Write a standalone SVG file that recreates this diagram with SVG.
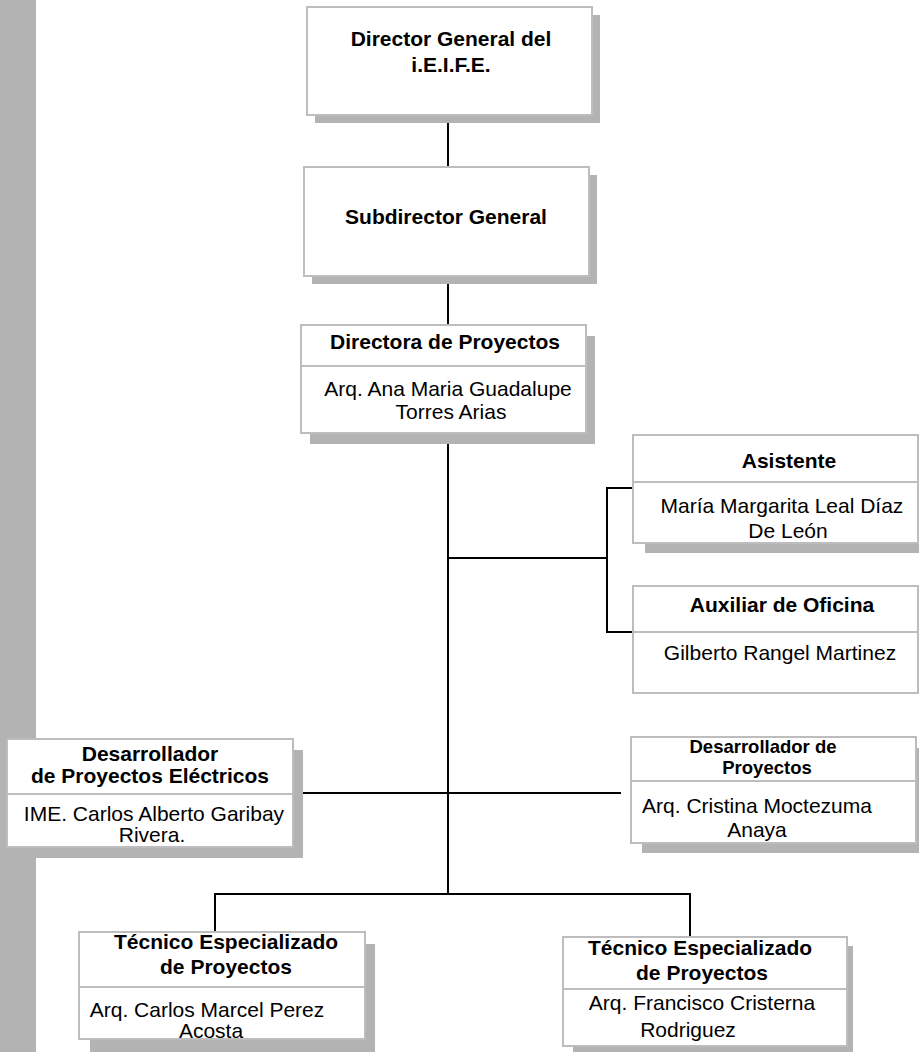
<svg xmlns="http://www.w3.org/2000/svg" width="919" height="1052" viewBox="0 0 919 1052">
<style>
.sh{fill:#b3b3b3}
.bx{fill:#fff;stroke:#bdbdbd;stroke-width:2}
.dv{stroke:#bdbdbd;stroke-width:2}
.t{font-family:"Liberation Sans",Arial,sans-serif;font-size:21px;font-weight:bold;fill:#000;text-anchor:middle}
.n{font-family:"Liberation Sans",Arial,sans-serif;font-size:21px;fill:#000;text-anchor:middle}
.c{stroke:#000;stroke-width:2;fill:none}
</style>
<rect x="0" y="0" width="919" height="1052" fill="#fff"/>
<rect x="0" y="0" width="36" height="1052" class="sh"/>
<g id="connectors">
<line class="c" x1="448" y1="123" x2="448" y2="167"/>
<line class="c" x1="448" y1="284" x2="448" y2="325"/>
<line class="c" x1="448" y1="444" x2="448" y2="894"/>
<line class="c" x1="448" y1="558" x2="607" y2="558"/>
<polyline class="c" points="633,488 607,488 607,632 633,632"/>
<line class="c" x1="300" y1="793" x2="621" y2="793"/>
<polyline class="c" points="215,932 215,894 690,894 690,937"/>
</g>
<g id="director-general">
<rect class="sh" x="315" y="15" width="285" height="108"/>
<rect class="bx" x="307" y="7" width="285" height="108"/>
<text class="t" x="451" y="46">Director General del</text>
<text class="t" x="451" y="72">i.E.I.F.E.</text>
</g>
<g id="subdirector">
<rect class="sh" x="312" y="175" width="285" height="109"/>
<rect class="bx" x="304" y="167" width="285" height="109"/>
<text class="t" x="446" y="224">Subdirector General</text>
</g>
<g id="directora">
<rect class="sh" x="310" y="336" width="285" height="108"/>
<rect class="bx" x="301" y="325" width="285" height="108"/>
<line class="dv" x1="301" y1="366" x2="586" y2="366"/>
<text class="t" x="445" y="349">Directora de Proyectos</text>
<text class="n" x="448" y="396">Arq. Ana Maria Guadalupe</text>
<text class="n" x="451" y="419">Torres Arias</text>
</g>
<g id="asistente">
<rect class="sh" x="645" y="445" width="274" height="108"/>
<rect class="bx" x="633" y="435" width="285" height="108"/>
<line class="dv" x1="633" y1="482" x2="918" y2="482"/>
<text class="t" x="789" y="468">Asistente</text>
<text class="n" x="782" y="513">María Margarita Leal Díaz</text>
<text class="n" x="788" y="538">De León</text>
</g>
<g id="auxiliar">
<rect class="bx" x="633" y="586" width="285" height="107"/>
<line class="dv" x1="633" y1="632" x2="918" y2="632"/>
<text class="t" x="782" y="612">Auxiliar de Oficina</text>
<text class="n" x="780" y="660">Gilberto Rangel Martinez</text>
</g>
<g id="des-electricos">
<rect class="sh" x="18" y="750" width="285" height="108"/>
<rect class="bx" x="7" y="739" width="286" height="108"/>
<line class="dv" x1="7" y1="794" x2="293" y2="794"/>
<text class="t" x="150" y="761">Desarrollador</text>
<text class="t" x="150" y="783">de Proyectos Eléctricos</text>
<text class="n" x="154" y="821">IME. Carlos Alberto Garibay</text>
<text class="n" x="152" y="842">Rivera.</text>
</g>
<g id="des-proyectos">
<rect class="sh" x="642" y="748" width="277" height="105"/>
<rect class="bx" x="631" y="737" width="285" height="106"/>
<line class="dv" x1="631" y1="781" x2="916" y2="781"/>
<text class="t" x="763" y="753" style="font-size:18.5px">Desarrollador de</text>
<text class="t" x="767" y="774" style="font-size:18.5px">Proyectos</text>
<text class="n" x="757" y="813">Arq. Cristina Moctezuma</text>
<text class="n" x="757" y="837">Anaya</text>
</g>
<g id="tecnico-1">
<rect class="sh" x="90" y="944" width="285" height="108"/>
<rect class="bx" x="79" y="932" width="286" height="107"/>
<line class="dv" x1="79" y1="987" x2="365" y2="987"/>
<text class="t" x="226" y="949">Técnico Especializado</text>
<text class="t" x="226" y="974">de Proyectos</text>
<text class="n" x="207" y="1017">Arq. Carlos Marcel Perez</text>
<text class="n" x="211" y="1038">Acosta</text>
</g>
<g id="tecnico-2">
<rect class="sh" x="573" y="946" width="280" height="106"/>
<rect class="bx" x="563" y="937" width="284" height="109"/>
<line class="dv" x1="563" y1="989" x2="847" y2="989"/>
<text class="t" x="700" y="955">Técnico Especializado</text>
<text class="t" x="702" y="980">de Proyectos</text>
<text class="n" x="702" y="1010">Arq. Francisco Cristerna</text>
<text class="n" x="688" y="1037">Rodriguez</text>
</g>
</svg>
